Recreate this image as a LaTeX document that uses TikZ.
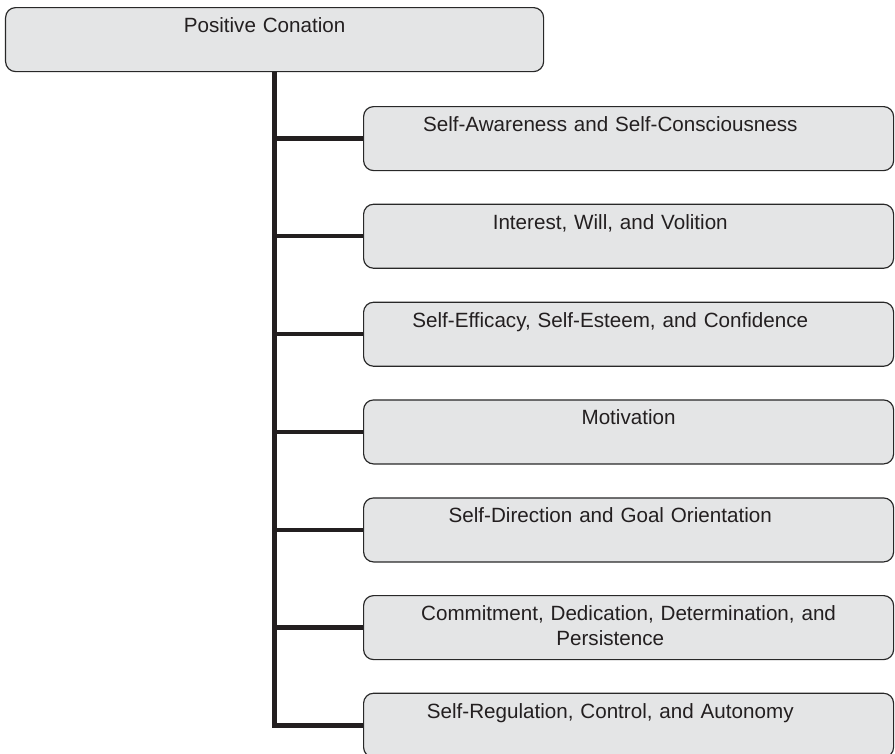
\documentclass[tikz,border=0pt]{standalone}
\usepackage{fontspec}
\setmainfont{Liberation Sans}

\definecolor{boxfill}{RGB}{228,229,230}
\definecolor{boxline}{RGB}{40,40,40}
\definecolor{treeline}{RGB}{35,31,32}

\newcommand{\lpad}{\hspace*{1.1cm}}

\tikzset{
  conbox/.style={draw=boxline, line width=1pt, fill=boxfill, rounded corners=0.3cm,
    inner xsep=0pt, inner ysep=0pt, align=center, anchor=north west,
    text height=0.75cm, text depth=1.17cm, text=treeline,
    font=\fontsize{17.6}{21.2}\selectfont},
  trunk/.style={draw=treeline, line width=4.3pt},
  branch/.style={draw=treeline, line width=3.6pt}
}

\begin{document}
\begin{tikzpicture}

\useasboundingbox (0,0) rectangle (26.85,-22.59);

\node[conbox, text width=16.14cm] (top) at (0.15, -0.21) {Positive Conation\hspace*{0.6cm}};

\node[conbox, text width=15.9cm] (awareness) at (10.89, -3.18) {Self-Awareness and Self-Consciousness\lpad};
\node[conbox, text width=15.9cm] (interest) at (10.89, -6.11) {Interest, Will, and Volition\lpad};
\node[conbox, text width=15.9cm] (efficacy) at (10.89, -9.05) {Self-Efficacy, Self-Esteem, and Confidence\lpad};
\node[conbox, text width=15.9cm] (motivation) at (10.89, -11.98) {Motivation};
\node[conbox, text width=15.9cm] (direction) at (10.89, -14.92) {Self-Direction and Goal Orientation\lpad};
\node[conbox, text width=15.9cm] (commitment) at (10.89, -17.85) {Commitment, Dedication, Determination, and\lpad\\Persistence\lpad};
\node[conbox, text width=15.9cm] (regulation) at (10.89, -20.78) {Self-Regulation, Control, and Autonomy\lpad};

\draw[trunk] (top.south) |- (regulation.west);

\draw[branch] (top.south |- awareness.west) -- (awareness.west);
\draw[branch] (top.south |- interest.west) -- (interest.west);
\draw[branch] (top.south |- efficacy.west) -- (efficacy.west);
\draw[branch] (top.south |- motivation.west) -- (motivation.west);
\draw[branch] (top.south |- direction.west) -- (direction.west);
\draw[branch] (top.south |- commitment.west) -- (commitment.west);

\end{tikzpicture}
\end{document}
